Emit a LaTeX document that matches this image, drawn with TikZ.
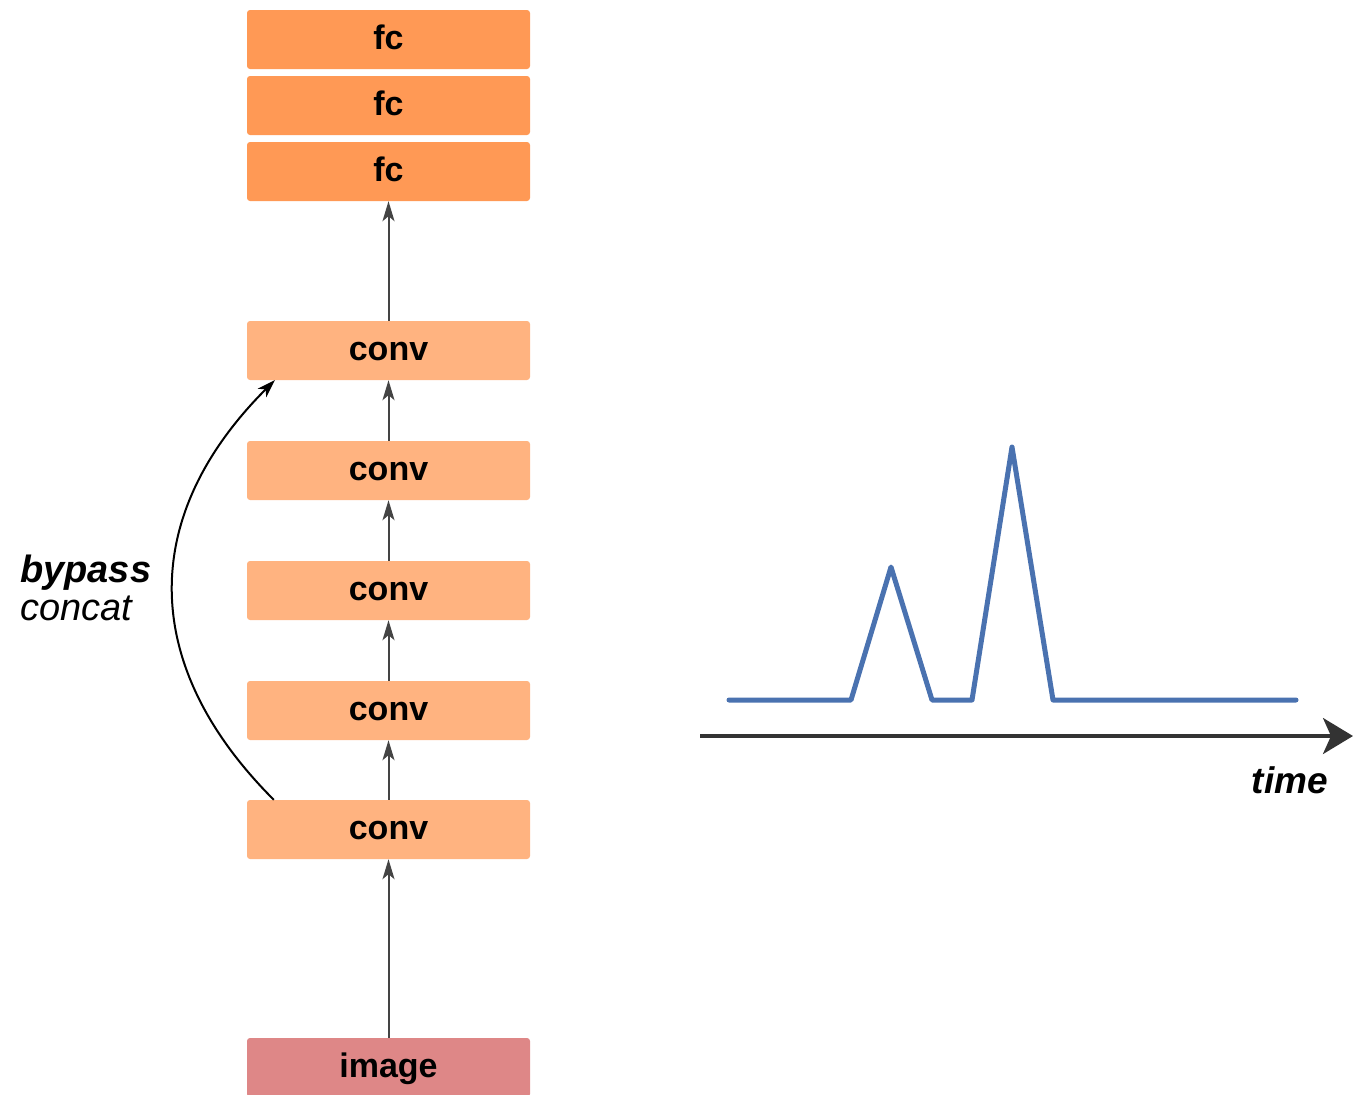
\documentclass[tikz,border=0pt]{standalone}
\usepackage{fontspec}
\setmainfont{Liberation Sans}
\usetikzlibrary{arrows.meta}

\definecolor{fcfill}{HTML}{FF9955}
\definecolor{convfill}{HTML}{FFB380}
\definecolor{imgfill}{HTML}{DE8787}
\definecolor{signal}{HTML}{4A72B0}
\definecolor{flow}{HTML}{444444}
\definecolor{axis}{HTML}{333333}

\tikzset{
  layer/.style={minimum width=283pt, minimum height=59pt, inner sep=0pt,
    rounded corners=3pt, text height=20pt, text depth=0pt,
    font=\fontsize{34}{40}\selectfont\bfseries},
  fclayer/.style={layer, fill=fcfill},
  convlayer/.style={layer, fill=convfill},
  imglayer/.style={layer, fill=imgfill},
  flowarrow/.style={draw=flow, line width=2pt,
    -{Stealth[length=20pt, width=12pt, inset=5pt]}},
  skiparrow/.style={draw=black, line width=2pt,
    -{Stealth[length=18pt, width=12pt, inset=5pt]}},
}

\begin{document}
\begin{tikzpicture}[x=1pt, y=-1pt]
\useasboundingbox (0,0) rectangle (1353,1095);

% network stack
\node[fclayer] (fc3) at (388.5,39.5) {fc};
\node[fclayer] (fc2) at (388.5,105.5) {fc};
\node[fclayer] (fc1) at (388.5,171.5) {fc};
\node[convlayer] (c5) at (388.5,350.5) {conv};
\node[convlayer] (c4) at (388.5,470.5) {conv};
\node[convlayer] (c3) at (388.5,590.5) {conv};
\node[convlayer] (c2) at (388.5,710.5) {conv};
\node[convlayer] (c1) at (388.5,829.5) {conv};
\node[imglayer] (img) at (388.5,1067.5) {image};

% forward connections
\draw[flowarrow] (img.north) -- (c1.south);
\draw[flowarrow] (c1.north) -- (c2.south);
\draw[flowarrow] (c2.north) -- (c3.south);
\draw[flowarrow] (c3.north) -- (c4.south);
\draw[flowarrow] (c4.north) -- (c5.south);
\draw[flowarrow] (c5.north) -- (fc1.south);

% bypass connection
\coordinate (bpstart) at ([xshift=27pt]c1.north west);
\coordinate (bpend) at ([xshift=28pt]c5.south west);
\draw[skiparrow] (bpstart) .. controls (139,665) and (139,516) .. (bpend);
\node[anchor=base west, inner sep=0pt, align=left,
  font=\fontsize{38}{38}\selectfont\itshape] (bplabel) at (20,620)
  {\textbf{bypass}\\concat};

% time axis
\coordinate (t0) at (700,736);
\coordinate (t1) at (1353,736);
\draw[axis, line width=3.5pt, -{Stealth[length=30pt, width=36pt, inset=8pt]}] (t0) -- (t1);
\node[anchor=base east, inner sep=0pt,
  font=\fontsize{37}{40}\selectfont\bfseries\itshape] (tlabel) at (1328,793) {time};

% spike signal
\draw[signal, line width=5pt, line cap=round, line join=round]
  (729,700) -- (851,700) -- (891,567) -- (932,700) -- (972,700)
  -- (1012,447) -- (1053,700) -- (1296,700);
\end{tikzpicture}
\end{document}
